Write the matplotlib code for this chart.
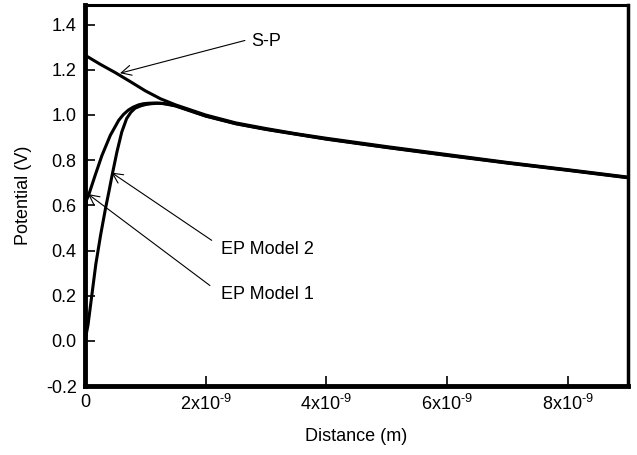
import numpy as np
import matplotlib
matplotlib.use("Agg")
import matplotlib.pyplot as plt
from matplotlib.ticker import FuncFormatter

plt.rcParams['font.family'] = ['Liberation Sans', 'DejaVu Sans']
plt.rcParams['mathtext.fontset'] = 'custom'
plt.rcParams['mathtext.rm'] = 'Liberation Sans'

# Données (x en 1e-9 m, potentiel en V)
x_sp = np.array([0, 0.25, 0.5, 0.75, 1.0, 1.25, 1.5, 2.0, 2.5, 3.0, 3.5, 4.0,
                 5.0, 6.0, 7.0, 8.0, 9.0])
v_sp = np.array([1.265, 1.225, 1.188, 1.148, 1.107, 1.072, 1.045, 1.0, 0.965,
                 0.94, 0.917, 0.897, 0.86, 0.825, 0.79, 0.758, 0.725])

x_ep1 = np.array([0, 0.02, 0.06, 0.17, 0.28, 0.42, 0.56, 0.64, 0.72, 0.8,
                  0.89, 0.97, 1.05, 1.15, 1.25, 1.35, 1.5, 2.0, 2.5, 3.0, 4.0,
                  5.0, 6.0, 7.0, 8.0, 9.0])
v_ep1 = np.array([0.0, 0.62, 0.645, 0.734, 0.82, 0.91, 0.977, 1.003, 1.022,
                  1.035, 1.045, 1.05, 1.052, 1.053, 1.052, 1.048, 1.04, 0.995,
                  0.961, 0.936, 0.893, 0.856, 0.821, 0.787, 0.755, 0.722])

x_ep2 = np.array([0, 0.05, 0.18, 0.26, 0.34, 0.4, 0.45, 0.53, 0.61, 0.69,
                  0.76, 0.83, 0.92, 1.0, 1.1, 1.2, 1.3, 1.4, 1.5, 2.0, 2.5,
                  3.0, 4.0, 5.0, 6.0, 7.0, 8.0, 9.0])
v_ep2 = np.array([0.0, 0.07, 0.34, 0.47, 0.586, 0.665, 0.734, 0.837, 0.925,
                  0.984, 1.012, 1.03, 1.04, 1.046, 1.05, 1.052, 1.051, 1.047,
                  1.041, 0.996, 0.962, 0.937, 0.894, 0.857, 0.822, 0.788,
                  0.756, 0.723])

x_ticks = [0, 2, 4, 6, 8]
y_ticks = [-0.2, 0.0, 0.2, 0.4, 0.6, 0.8, 1.0, 1.2, 1.4]

fig = plt.figure(figsize=(6.37, 4.55), dpi=100)
ax = fig.add_axes([0.1334, 0.1516, 0.8526, 0.8374])

for xs, vs in [(x_sp, v_sp), (x_ep1, v_ep1), (x_ep2, v_ep2)]:
    ax.plot(xs * 1e-9, vs, color='black', lw=2.2, solid_capstyle='butt')

ax.set_xlim(0, 9e-9)
ax.set_ylim(-0.2, 1.487)
ax.set_xticks([t * 1e-9 for t in x_ticks])
ax.set_yticks(y_ticks)


def fmt_x(v, pos):
    n = int(round(v * 1e9))
    if n == 0:
        return '0'
    return '%dx10$^{\\text{-9}}$' % n


ax.xaxis.set_major_formatter(FuncFormatter(fmt_x))
ax.yaxis.set_major_formatter(FuncFormatter(lambda v, p: '%.1f' % v))

ax.tick_params(direction='in', length=7, width=1.2, labelsize=13, pad=6,
               top=False, right=False)
ax.spines['left'].set_linewidth(3.5)
ax.spines['bottom'].set_linewidth(3.5)
ax.spines['top'].set_linewidth(2.2)
ax.spines['right'].set_linewidth(2.5)

ax.set_xlabel('Distance (m)', fontsize=13, labelpad=10)
ax.set_ylabel('Potential (V)', fontsize=13, labelpad=10)

# Annotations
arrow = dict(arrowstyle='->', color='black', lw=0.8,
             mutation_scale=18, shrinkA=0, shrinkB=0)
ax.annotate('', xy=(0.58e-9, 1.185), xytext=(2.65e-9, 1.33), arrowprops=arrow)
ax.text(2.75e-9, 1.325, 'S-P', fontsize=13, va='center', ha='left')

ax.annotate('', xy=(0.44e-9, 0.745), xytext=(2.1e-9, 0.445), arrowprops=arrow)
ax.text(2.26e-9, 0.405, 'EP Model 2', fontsize=13, va='center', ha='left')

ax.annotate('', xy=(0.05e-9, 0.65), xytext=(2.07e-9, 0.245), arrowprops=arrow)
ax.text(2.26e-9, 0.205, 'EP Model 1', fontsize=13, va='center', ha='left')

plt.savefig('out.png', dpi=100)
